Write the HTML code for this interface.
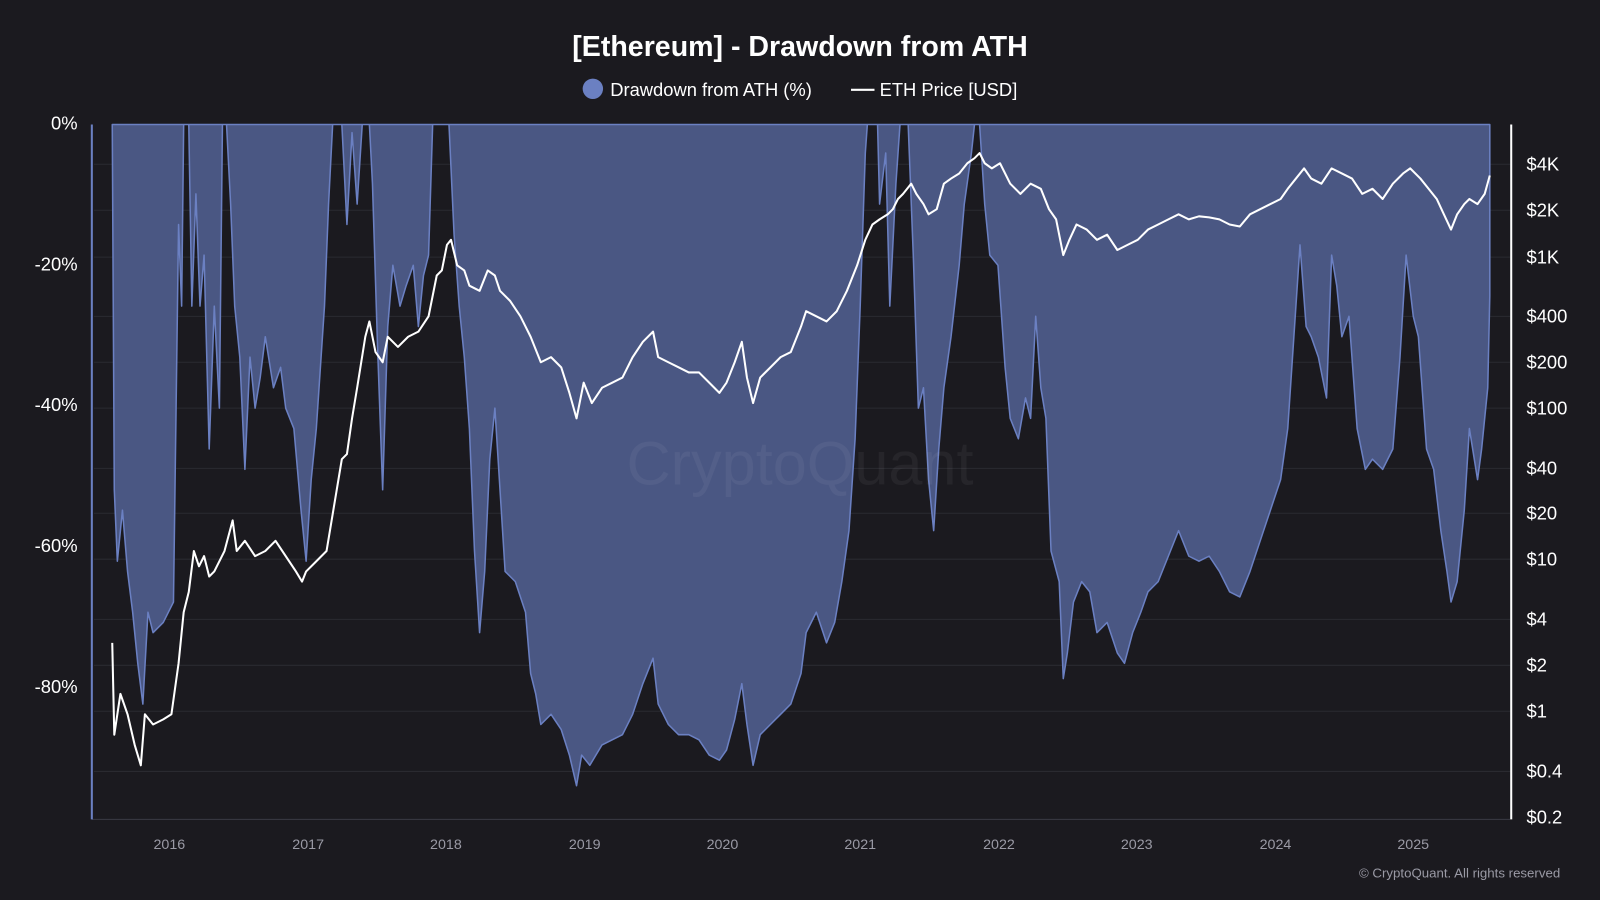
<!DOCTYPE html>
<html><head><meta charset="utf-8"><style>
html,body{margin:0;padding:0;background:#1b1a1f;}
svg{display:block;}
text{font-family:"Liberation Sans",sans-serif;}
</style></head><body>
<svg width="1600" height="900" viewBox="0 0 1568 882" preserveAspectRatio="none" xmlns="http://www.w3.org/2000/svg">
<rect width="1568" height="882" fill="#1b1a1f"/>
<text x="784" y="55" text-anchor="middle" fill="#fff" font-size="28" font-weight="bold">[Ethereum] - Drawdown from ATH</text>
<circle cx="581" cy="87" r="10" fill="#6b80c2"/>
<text x="598" y="94" fill="#fff" font-size="18">Drawdown from ATH (%)</text>
<line x1="834" y1="88" x2="857" y2="88" stroke="#fff" stroke-width="2"/>
<text x="862" y="94" fill="#fff" font-size="18">ETH Price [USD]</text>
<g stroke="#2a2a30" stroke-width="1">
<line x1="92" x2="1480" y1="161" y2="161"/><line x1="92" x2="1480" y1="206" y2="206"/><line x1="92" x2="1480" y1="252" y2="252"/><line x1="92" x2="1480" y1="310" y2="310"/><line x1="92" x2="1480" y1="355" y2="355"/><line x1="92" x2="1480" y1="400" y2="400"/><line x1="92" x2="1480" y1="459" y2="459"/><line x1="92" x2="1480" y1="503" y2="503"/><line x1="92" x2="1480" y1="548" y2="548"/><line x1="92" x2="1480" y1="607" y2="607"/><line x1="92" x2="1480" y1="652" y2="652"/><line x1="92" x2="1480" y1="697" y2="697"/><line x1="92" x2="1480" y1="756" y2="756"/>
</g>
<line x1="90" y1="803" x2="1480" y2="803" stroke="#3a3a44"/>
<polygon fill="#4a5783" stroke="#6b80c2" stroke-width="1.5" stroke-linejoin="round" points="110,122 112,480 115,550 120,500 125,560 130,600 135,650 140,690 145,600 150,620 160,610 170,590 175,220 178,300 180,122 185,122 188,300 192,190 196,300 200,250 205,440 210,300 215,400 218,122 222,122 226,200 230,300 235,350 240,460 245,350 250,400 255,370 260,330 268,380 275,360 280,400 288,420 295,500 300,550 305,470 310,420 318,300 322,200 326,122 335,122 340,220 345,130 350,200 355,122 362,122 365,180 370,340 375,480 380,320 385,260 392,300 398,280 405,260 410,320 415,270 420,250 424,122 440,122 445,230 450,300 455,350 460,420 465,540 470,620 475,560 480,450 485,400 490,480 495,560 505,570 515,600 520,660 525,680 530,710 540,700 550,715 558,740 565,770 570,740 578,750 590,730 600,725 610,720 620,700 630,670 640,645 645,690 655,710 665,720 675,720 685,725 695,740 705,745 712,735 720,705 727,670 732,710 738,750 745,720 755,710 765,700 775,690 785,660 790,620 800,600 810,630 818,610 825,570 832,520 838,430 843,300 848,150 850,122 860,122 862,200 868,150 872,300 878,180 882,122 890,122 895,250 900,400 905,380 910,470 915,520 920,440 925,380 932,330 940,260 945,200 952,150 955,122 960,122 965,200 970,250 978,260 985,360 990,410 998,430 1005,390 1010,410 1015,310 1020,380 1025,410 1030,540 1038,570 1042,665 1046,640 1052,590 1060,570 1068,580 1075,620 1085,610 1095,640 1102,650 1110,620 1118,600 1125,580 1135,570 1145,545 1155,520 1165,545 1175,550 1185,545 1195,560 1205,580 1215,585 1225,560 1235,530 1245,500 1255,470 1262,420 1268,330 1274,240 1280,320 1285,330 1292,350 1300,390 1305,250 1310,280 1315,330 1322,310 1330,420 1338,460 1345,450 1355,460 1365,440 1372,350 1378,250 1385,310 1390,330 1398,440 1405,460 1412,520 1418,560 1422,590 1428,570 1435,500 1440,420 1448,470 1452,440 1458,380 1460,290 1460,122"/>
<text x="784" y="475" text-anchor="middle" fill="#ffffff" fill-opacity="0.05" font-size="60">CryptoQuant</text>
<polyline fill="none" stroke="#fff" stroke-width="2" stroke-linejoin="round" points="110,630 112,720 118,680 125,700 132,730 138,750 142,700 150,710 160,705 168,700 175,650 180,600 185,580 190,540 195,555 200,545 205,565 210,560 220,540 228,510 232,540 240,530 250,545 260,540 270,530 280,545 290,560 296,570 300,560 310,550 320,540 325,510 330,480 335,450 340,445 345,410 350,380 358,330 362,315 368,345 375,355 380,330 390,340 400,330 410,325 420,310 428,270 433,265 438,240 442,235 448,260 455,265 460,280 470,285 478,265 485,270 490,285 500,295 510,310 520,330 530,355 540,350 550,360 558,385 565,410 572,375 580,395 590,380 600,375 610,370 620,350 630,335 640,325 645,350 655,355 665,360 675,365 685,365 695,375 705,385 712,375 720,355 727,335 732,370 738,395 745,370 755,360 765,350 775,345 785,320 790,305 800,310 810,315 820,305 830,285 840,260 848,235 855,220 862,215 870,210 875,205 880,195 885,190 893,180 898,190 905,200 910,210 918,205 925,180 932,175 940,170 948,160 955,155 960,150 965,160 972,165 980,160 990,180 1000,190 1010,180 1020,185 1028,205 1035,215 1042,250 1048,235 1055,220 1065,225 1075,235 1085,230 1095,245 1105,240 1115,235 1125,225 1135,220 1145,215 1155,210 1165,215 1175,212 1185,213 1195,215 1205,220 1215,222 1225,210 1235,205 1245,200 1255,195 1262,185 1270,175 1278,165 1285,175 1295,180 1305,165 1315,170 1325,175 1335,190 1345,185 1355,195 1365,180 1375,170 1382,165 1392,175 1400,185 1408,195 1415,210 1422,225 1428,210 1435,200 1440,195 1448,200 1455,190 1460,172"/>
<line x1="90" y1="122" x2="90" y2="803" stroke="#6b80c2" stroke-width="2"/>
<line x1="1481" y1="122" x2="1481" y2="803" stroke="#fff" stroke-width="2"/>
<g fill="#fff" font-size="18" text-anchor="end">
<text x="76" y="127">0%</text><text x="76" y="265">-20%</text><text x="76" y="403">-40%</text><text x="76" y="541">-60%</text><text x="76" y="679">-80%</text>
</g>
<g fill="#fff" font-size="18">
<text x="1496" y="167">$4K</text><text x="1496" y="212">$2K</text><text x="1496" y="258">$1K</text><text x="1496" y="316">$400</text><text x="1496" y="361">$200</text><text x="1496" y="406">$100</text><text x="1496" y="465">$40</text><text x="1496" y="509">$20</text><text x="1496" y="554">$10</text><text x="1496" y="613">$4</text><text x="1496" y="658">$2</text><text x="1496" y="703">$1</text><text x="1496" y="762">$0.4</text><text x="1496" y="807">$0.2</text>
</g>
<g fill="#9a9aa5" font-size="14" text-anchor="middle">
<text x="166" y="832">2016</text><text x="302" y="832">2017</text><text x="437" y="832">2018</text><text x="573" y="832">2019</text><text x="708" y="832">2020</text><text x="843" y="832">2021</text><text x="979" y="832">2022</text><text x="1114" y="832">2023</text><text x="1250" y="832">2024</text><text x="1385" y="832">2025</text>
</g>
<text x="1529" y="860" text-anchor="end" fill="#9a9aa5" font-size="13">© CryptoQuant. All rights reserved</text>
</svg>
</body></html>
